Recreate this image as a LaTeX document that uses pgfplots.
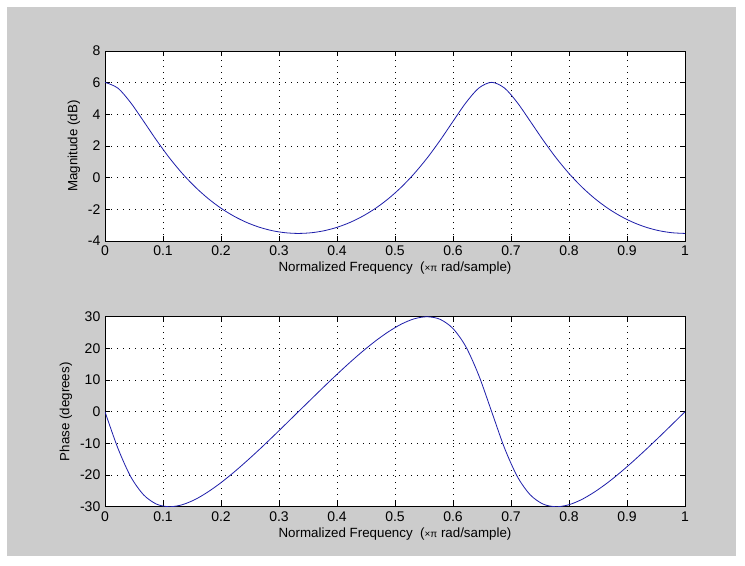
\documentclass[border=0pt]{standalone}
\usepackage{fontspec}
\setmainfont{Liberation Sans}
\usepackage{pgfplots}
\usepackage{pgfplotstable}
\pgfplotsset{compat=1.18}
\pgfplotstableread{
x mag ph
0 6.021 0
0.0222 5.657 -11.50
0.0444 4.731 -20.53
0.0667 3.556 -26.27
0.0889 2.359 -29.18
0.1111 1.249 -30.00
0.1333 0.264 -29.36
0.1556 -0.590 -27.69
0.1778 -1.318 -25.29
0.2 -1.929 -22.39
0.2222 -2.430 -19.11
0.2444 -2.831 -15.56
0.2667 -3.137 -11.82
0.2889 -3.352 -7.95
0.3111 -3.479 -3.99
0.3333 -3.522 0
0.3556 -3.479 3.99
0.3778 -3.352 7.95
0.4 -3.137 11.82
0.4222 -2.831 15.56
0.4444 -2.430 19.11
0.4667 -1.929 22.39
0.4889 -1.318 25.29
0.5111 -0.590 27.69
0.5333 0.264 29.36
0.5556 1.249 30.00
0.5778 2.359 29.18
0.6 3.556 26.27
0.6222 4.731 20.53
0.6444 5.657 11.50
0.6667 6.021 0
0.6889 5.657 -11.50
0.7111 4.731 -20.53
0.7333 3.556 -26.27
0.7556 2.359 -29.18
0.7778 1.249 -30.00
0.8 0.264 -29.36
0.8222 -0.590 -27.69
0.8444 -1.318 -25.29
0.8667 -1.929 -22.39
0.8889 -2.430 -19.11
0.9111 -2.831 -15.56
0.9333 -3.137 -11.82
0.9556 -3.352 -7.95
0.9778 -3.479 -3.99
1 -3.522 0
}\resp
\definecolor{figbg}{RGB}{204,204,204}
\definecolor{curve}{RGB}{30,30,170}
\pgfplotsset{
  mlab/.style={
    scale only axis, width=435pt, height=142.5pt,
    xmin=0, xmax=1,
    xtick={0,0.1,...,1},
    xticklabels={0,0.1,0.2,0.3,0.4,0.5,0.6,0.7,0.8,0.9,1},
    tick align=inside, tickpos=both,
    major tick length=4pt,
    grid=major,
    major grid style={black, line width=0.6pt, dash pattern=on 0.6pt off 3.9pt},
    axis line style={black, line width=0.6pt},
    tick style={black, line width=0.6pt},
    axis background/.style={fill=white},
    /pgf/number format/assume math mode=true,
    ticklabel style={font=\fontsize{10.5}{12}\selectfont},
    label style={font=\fontsize{10}{11}\selectfont},
    xlabel={Normalized Frequency\ \ ({\fontsize{7.5}{8}\selectfont ×π} rad/sample)},
    xlabel style={yshift=2pt},
    ylabel style={yshift=-1pt},
  }
}
\begin{document}
\begin{tikzpicture}
\fill[white] (0,0) rectangle (558.75pt,423.75pt);
\fill[figbg] (5.25pt,6.75pt) rectangle (552pt,418.5pt);
\begin{axis}[mlab, at={(78.75pt,243pt)}, anchor=south west,
  ymin=-4, ymax=8, ytick={-4,-2,0,2,4,6,8},
  ylabel={Magnitude (dB)}]
\addplot[curve, line width=0.6pt, smooth, no markers] table[x=x, y=mag] {\resp};
\end{axis}
\begin{axis}[mlab, at={(78.75pt,43.7pt)}, anchor=south west,
  ymin=-30, ymax=30, ytick={-30,-20,...,30},
  ylabel={Phase (degrees)}]
\addplot[curve, line width=0.6pt, smooth, no markers] table[x=x, y=ph] {\resp};
\end{axis}
\end{tikzpicture}
\end{document}
